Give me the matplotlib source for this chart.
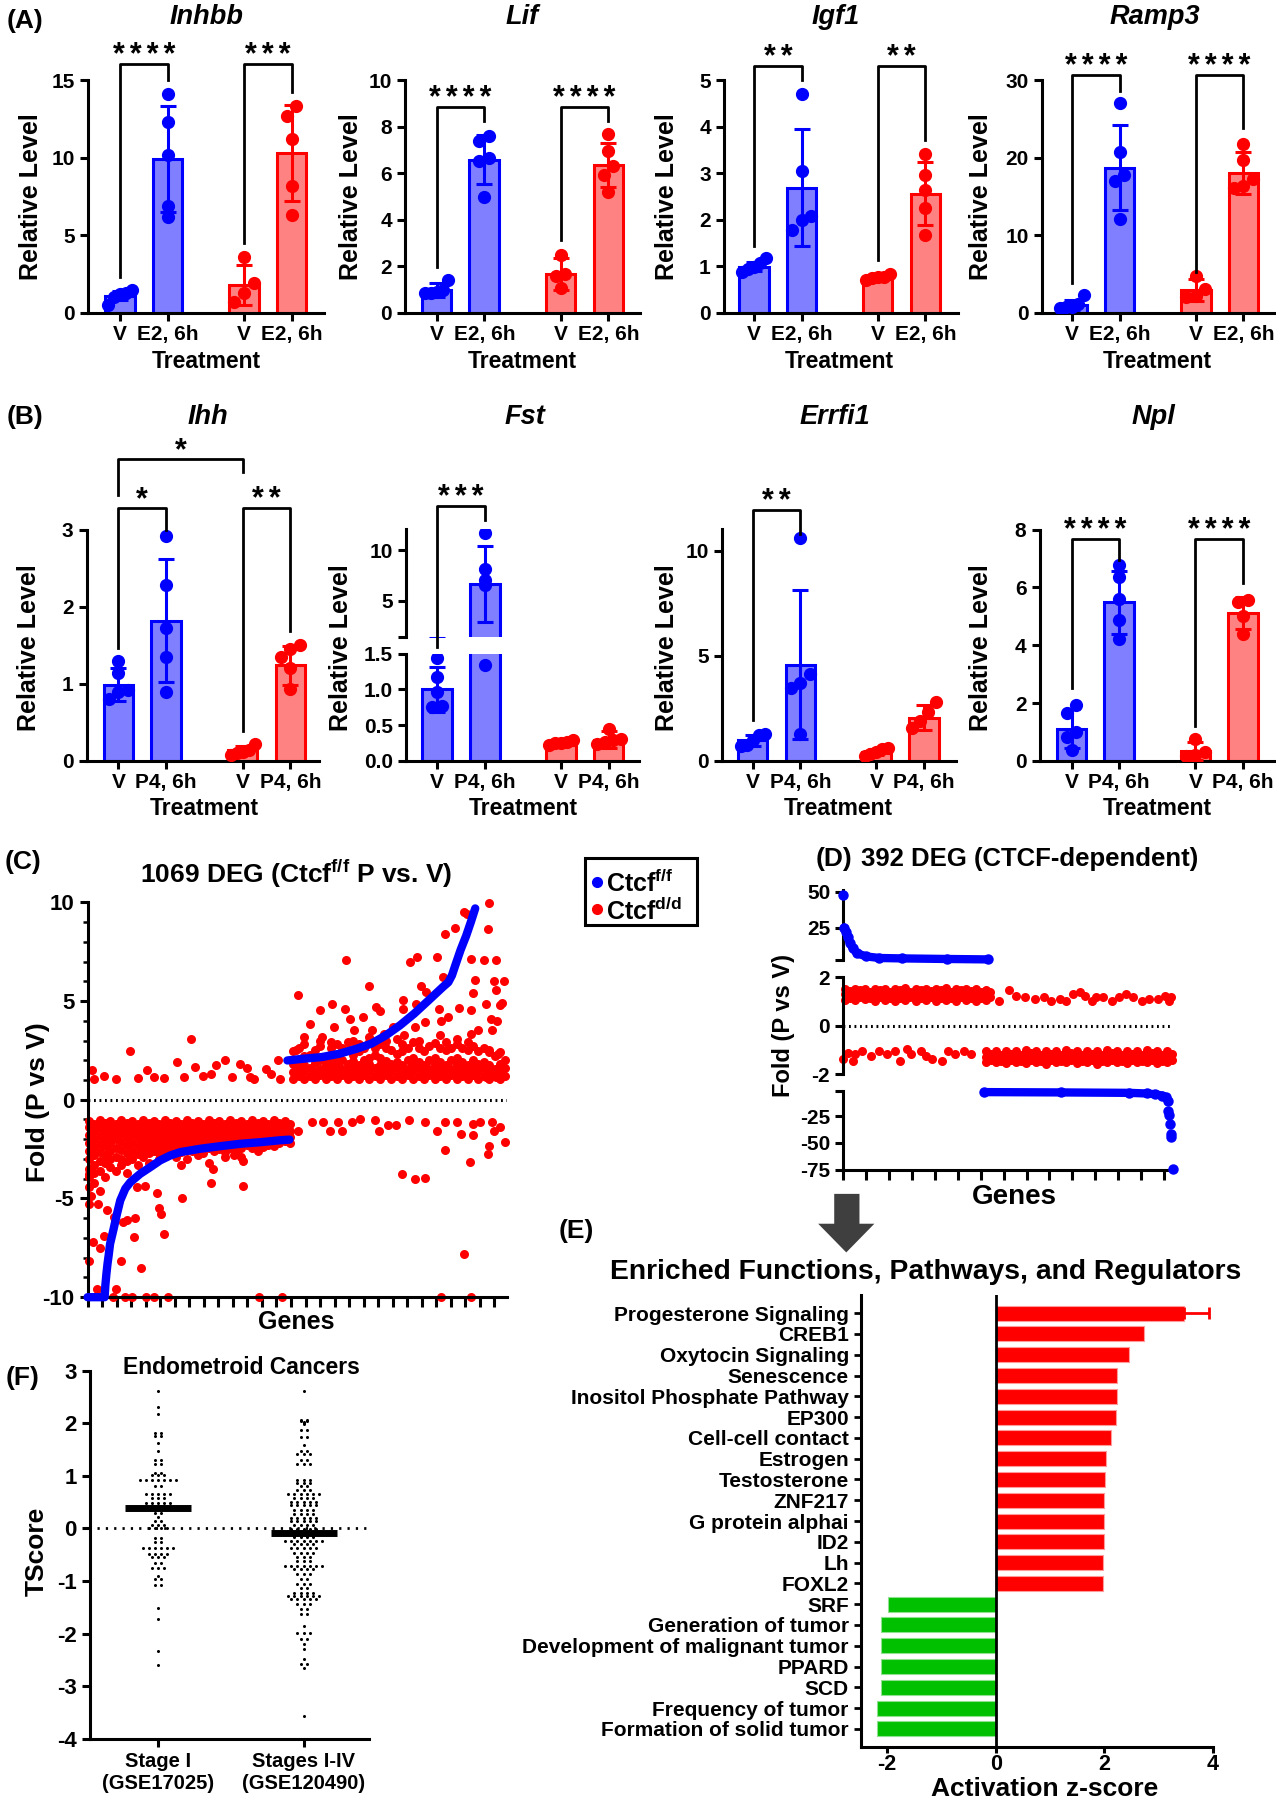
import numpy as np
import matplotlib
matplotlib.use("Agg")
import matplotlib.pyplot as plt
from matplotlib.patches import Polygon, Rectangle

plt.rcParams['font.family'] = ['Liberation Sans', 'DejaVu Sans']
plt.rcParams['font.weight'] = 'bold'
plt.rcParams['axes.labelweight'] = 'bold'
plt.rcParams['axes.unicode_minus'] = False
plt.rcParams['mathtext.fontset'] = 'custom'
plt.rcParams['mathtext.rm'] = 'Liberation Sans:bold'
plt.rcParams['mathtext.default'] = 'rm'
NARROW = ['Liberation Sans Narrow', 'Liberation Sans', 'DejaVu Sans']

W, H = 1112.0, 1568.0  # layout grid in reference pixels

BLUE, RED = '#0000ff', '#ff0000'
BLUE_FILL, RED_FILL = '#7f7fff', '#ff8282'
XPOS = [0, 1, 2.6, 3.6]

# ---------------- (A) E2 response ----------------
inhbb_mean = [1.1, 9.9, 1.8, 10.3]
inhbb_sd = [0.3, 3.4, 1.3, 3.1]
inhbb_pts = [[1.2, 1.5, 0.5, 1.0, 1.3], [14.1, 12.3, 10.2, 6.9, 6.2],
             [3.6, 1.9, 1.3, 0.7], [13.3, 12.7, 11.2, 8.2, 6.3]]
inhbb_sig = [(0, 1, 16.0, 2.3, 15.0, 4), (2.6, 3.6, 16.0, 4.5, 14.2, 3)]

lif_mean = [0.98, 6.58, 1.67, 6.36]
lif_sd = [0.28, 1.05, 0.67, 0.95]
lif_pts = [[1.4, 1.0, 0.85, 0.85, 0.9], [7.6, 7.4, 6.65, 6.5, 4.97],
           [2.5, 1.65, 1.6, 1.05], [7.66, 6.97, 6.3, 5.93, 5.17]]
lif_sig = [(0, 1, 8.85, 1.98, 8.23, 4), (2.6, 3.6, 8.85, 3.13, 8.23, 4)]

igf1_mean = [0.99, 2.69, 0.77, 2.56]
igf1_sd = [0.1, 1.25, 0.05, 0.68]
igf1_pts = [[1.17, 1.06, 0.95, 0.88, 0.99], [4.71, 3.05, 2.08, 1.99, 1.78],
            [0.84, 0.78, 0.74, 0.7, 0.76], [3.41, 2.96, 2.64, 2.26, 1.67]]
igf1_sig = [(0, 1, 5.31, 1.44, 5.0, 2), (2.6, 3.6, 5.31, 1.13, 3.71, 2)]

ramp3_mean = [1.0, 18.7, 2.9, 18.0]
ramp3_sd = [0.7, 5.5, 1.4, 2.7]
ramp3_pts = [[2.3, 1.2, 0.8, 0.6, 0.7], [27.0, 20.7, 17.8, 17.0, 12.1],
             [4.7, 3.1, 2.2, 2.0], [21.7, 19.7, 17.2, 16.4, 16.1]]
ramp3_sig = [(0, 1, 30.6, 3.9, 28.6, 4), (2.6, 3.6, 30.6, 5.2, 23.8, 4)]

# ---------------- (B) P4 response ----------------
ihh_mean = [0.99, 1.82, 0.14, 1.24]
ihh_sd = [0.21, 0.8, 0.05, 0.25]
ihh_pts = [[1.3, 1.14, 0.92, 0.9, 0.8], [2.91, 2.28, 1.72, 1.35, 0.9],
           [0.22, 0.14, 0.12, 0.1, 0.08], [1.5, 1.45, 1.35, 1.2, 0.93]]
ihh_sig = [(0, 1, 3.28, 1.47, 3.0, 1), (2.6, 3.6, 3.28, 0.39, 1.69, 2),
           (0, 2.6, 3.91, 3.45, 3.74, 1)]

fst_mean = [1.0, 6.7, 0.26, 0.3]
fst_sd = [0.31, 3.75, 0.03, 0.12]
fst_pts = [[1.44, 1.18, 0.96, 0.77, 0.76], [11.7, 8.1, 7.1, 6.6, 1.34],
           [0.3, 0.27, 0.25, 0.25, 0.22], [0.45, 0.31, 0.29, 0.27, 0.24]]
fst_sig = [(0, 1, 14.4, 0.46, 13.0, 3)]

errfi1_mean = [0.98, 4.58, 0.43, 2.06]
errfi1_sd = [0.25, 3.55, 0.15, 0.6]
errfi1_pts = [[1.3, 1.22, 1.0, 0.75, 0.7], [10.6, 4.12, 3.72, 3.47, 1.3],
              [0.63, 0.55, 0.45, 0.35, 0.24], [2.8, 2.35, 1.9, 1.55]]
errfi1_sig = [(0, 1, 11.96, 1.93, 10.78, 2)]

npl_mean = [1.12, 5.48, 0.35, 5.12]
npl_sd = [0.68, 1.1, 0.3, 0.55]
npl_pts = [[1.95, 1.66, 1.0, 0.83, 0.37], [6.77, 6.36, 5.61, 4.86, 4.23],
           [0.77, 0.3, 0.22, 0.16], [5.55, 5.5, 5.0, 4.4]]
npl_sig = [(0, 1, 7.68, 2.52, 6.94, 4), (2.6, 3.6, 7.68, 1.2, 6.16, 4)]

# ---------------- (C) 1069 DEG ----------------
c_blue_neg_x = [0, 47, 49, 52, 55, 58, 62, 71, 81, 90, 104, 118, 145, 173, 200, 228, 256,
                311, 366, 421, 476, 531, 556]
c_blue_neg_y = [-10, -10, -9.4, -8.8, -8.3, -7.9, -7.3, -6.6, -5.78, -5.1, -4.5, -4.17,
                -3.75, -3.41, -3.07, -2.82, -2.65, -2.48, -2.35, -2.23, -2.15, -2.05, -2.02]
c_blue_pos_x = [550, 595, 644, 693, 742, 781, 821, 860, 899, 939, 978, 993, 1003, 1013,
                1027, 1042, 1055, 1067]
c_blue_pos_y = [1.99, 2.08, 2.16, 2.33, 2.59, 2.84, 3.26, 3.77, 4.36, 5.04, 5.71, 5.95, 6.3,
                6.85, 7.6, 8.3, 9.0, 9.69]

c_red_x = [5, 10, 5, 30, 15, 34, 5, 25, 44, 54, 74, 98, 108, 131, 128, 93, 147, 79, 69, 103,
           123, 162, 182, 221, 472, 536, 973, 1055, 192, 197, 202, 210, 260, 136, 157, 341,
           428, 258, 344, 428, 403,
           13, 17, 44, 79, 116, 138, 164, 182, 211, 246, 265, 285, 295, 317, 339, 354, 378,
           398, 420, 438, 447, 459, 492, 506, 524, 531,
           580, 619, 649, 668, 688, 701, 727, 750, 792, 801, 826, 850, 865, 885, 900, 929,
           929, 963, 983, 983, 1017, 1027, 1037, 1052, 1062, 1062, 1081, 1101, 1106, 1113,
           1120, 1135, 1150,
           580, 612, 639, 672, 711, 708, 721, 757, 774, 794, 804, 868, 868, 888, 907, 917,
           932, 963, 978, 983, 1012, 1037, 1056, 1062, 1066, 1055, 1101, 1106, 1091, 1125,
           1120, 1096, 1111, 1124, 1134, 1145, 1140, 1126, 1076, 1113, 1056, 1022, 973, 968,
           992, 929, 905, 900, 870, 841, 816, 782, 732, 678, 644, 595, 575, 1106, 1130, 1140,
           1125, 1096, 1045]
c_red_y = [-3.75, -4.9, -5.3, -5.3, -7.2, -7.5, -8.15, -9.6, -6.9, -5.6, -5.95, -6.2, -6.1,
           -6.0, -6.97, -8.15, -8.5, -9.6, -10, -10, -10, -10, -10, -10, -10, -10, -10, -10,
           -4.7, -5.5, -5.8, -6.8, -5.0, -4.4, -4.35, -4.2, -4.35, -3.3, -3.5, -3.1, -2.8,
           1.52, 1.07, 1.18, 1.07, 2.47, 1.1, 1.52, 1.15, 1.1, 1.91, 1.15, 3.09, 1.66, 1.18,
           1.32, 1.74, 2.03, 1.15, 1.83, 1.62, 1.15, 1.07, 1.57, 1.32, 2.03, 1.07,
           -1.56, -1.13, -1.13, -1.56, -1.13, -1.56, -1.13, -0.96, -1.05, -1.56, -1.3, -1.3,
           -3.75, -1.05, -4.0, -3.96, -1.13, -1.56, -2.57, -1.13, -1.13, -1.72, -7.81, -3.16,
           -1.81, -1.22, -1.13, -2.74, -2.32, -1.13, -1.56, -1.39, -2.15,
           5.3, 3.85, 4.53, 4.84, 7.07, 4.6, 4.1, 4.19, 5.77, 4.7, 4.5, 5.04, 4.6, 6.98, 7.24,
           5.77, 5.46, 7.24, 6.22, 8.39, 8.71, 9.49, 7.15, 5.41, 6.05, 4.53, 8.64, 9.94, 7.07,
           7.07, 6.0, 4.84, 4.1, 5.58, 4.78, 6.0, 4.9, 4.0, 3.55, 3.52, 3.35, 4.67, 4.0, 4.6,
           4.19, 3.94, 4.87, 3.69, 3.26, 3.69, 3.35, 3.52, 3.52, 3.69, 3.18, 3.18, 2.5, 2.5,
           2.33, 1.66, 1.15, 1.15, 9.4]

c_red_neg_band = [
    (3, [-1.1, -1.4, -1.8, -2.2, -2.6, -3.0, -3.5, -3.9, -4.4]),
    (18, [-1.25, -1.6, -2.0, -2.4, -2.8, -3.3, -3.7, -4.2]),
    (33, [-1.05, -1.45, -1.85, -2.25, -2.65, -3.1, -3.6, -4.6]),
    (48, [-1.2, -1.55, -1.95, -2.35, -2.8, -3.2, -3.9]),
    (63, [-1.1, -1.45, -1.8, -2.2, -2.6, -3.0, -3.4]),
    (78, [-1.25, -1.6, -2.0, -2.45, -2.9, -3.6]),
    (93, [-1.05, -1.4, -1.75, -2.15, -2.55, -3.0, -3.3]),
    (108, [-1.2, -1.55, -1.9, -2.3, -2.7, -3.1, -3.7]),
    (123, [-1.1, -1.45, -1.8, -2.2, -2.6, -3.0]),
    (138, [-1.25, -1.6, -1.95, -2.35, -2.75, -3.3]),
    (153, [-1.05, -1.4, -1.75, -2.1, -2.5, -2.9]),
    (168, [-1.2, -1.55, -1.9, -2.3, -2.7, -3.2]),
    (183, [-1.1, -1.45, -1.8, -2.2, -2.6]),
    (198, [-1.25, -1.6, -1.95, -2.3, -2.7, -3.0]),
    (213, [-1.05, -1.4, -1.75, -2.1, -2.5, -2.85]),
    (228, [-1.2, -1.55, -1.9, -2.25, -2.6]),
    (243, [-1.1, -1.45, -1.8, -2.15, -2.5, -2.9]),
    (258, [-1.25, -1.6, -1.95, -2.3, -2.65]),
    (273, [-1.05, -1.4, -1.75, -2.1, -2.45, -3.0]),
    (288, [-1.2, -1.55, -1.9, -2.25, -2.6]),
    (303, [-1.1, -1.45, -1.8, -2.15, -2.5, -2.8]),
    (318, [-1.25, -1.6, -1.95, -2.3, -2.7]),
    (333, [-1.05, -1.4, -1.75, -2.1, -2.45, -3.2]),
    (348, [-1.2, -1.55, -1.9, -2.25, -2.6]),
    (363, [-1.1, -1.45, -1.8, -2.15, -2.5]),
    (378, [-1.25, -1.6, -1.95, -2.3, -2.65, -2.9]),
    (393, [-1.05, -1.4, -1.75, -2.1, -2.45]),
    (408, [-1.2, -1.55, -1.9, -2.25, -2.6]),
    (423, [-1.1, -1.45, -1.8, -2.15, -2.45, -2.9]),
    (438, [-1.25, -1.6, -1.95, -2.3]),
    (453, [-1.05, -1.4, -1.75, -2.1, -2.45]),
    (468, [-1.2, -1.55, -1.9, -2.25, -2.6]),
    (483, [-1.1, -1.45, -1.8, -2.15, -2.4]),
    (498, [-1.25, -1.6, -1.95, -2.3]),
    (513, [-1.05, -1.4, -1.75, -2.1, -2.35]),
    (528, [-1.2, -1.55, -1.9, -2.2]),
    (543, [-1.1, -1.45, -1.8, -2.1]),
    (556, [-1.25, -1.6, -1.9, -2.2]),
]
c_red_pos_band = [
    (566, [1.05, 1.4, 1.8, 2.45]), (581, [1.2, 1.55, 1.95, 2.6]),
    (596, [1.05, 1.45, 1.75, 2.2, 2.8]), (611, [1.2, 1.6, 2.25]),
    (626, [1.05, 1.4, 1.85, 2.5]), (641, [1.25, 1.55, 2.0, 2.7, 3.0]),
    (656, [1.05, 1.45, 1.75, 2.1]), (671, [1.2, 1.6, 1.95, 2.6, 2.9]),
    (686, [1.05, 1.4, 1.75, 2.15, 2.8]), (701, [1.25, 1.55, 2.0, 2.6]),
    (716, [1.05, 1.45, 1.8, 2.5, 2.9]), (731, [1.2, 1.6, 1.95, 2.25, 3.0]),
    (746, [1.05, 1.4, 1.75, 2.45, 2.8]), (761, [1.25, 1.55, 2.0, 2.6]),
    (776, [1.05, 1.45, 1.8, 2.1, 2.9, 3.2]), (791, [1.2, 1.6, 2.25, 2.6]),
    (806, [1.05, 1.4, 1.75, 2.1, 2.8]), (821, [1.25, 1.55, 1.95, 2.6, 2.95]),
    (836, [1.05, 1.45, 1.8, 2.5]), (851, [1.2, 1.6, 1.9, 2.3, 3.1]),
    (866, [1.05, 1.4, 1.75, 2.45, 2.8]), (881, [1.25, 1.55, 2.0, 2.6]),
    (896, [1.05, 1.45, 1.8, 2.1, 2.9]), (911, [1.2, 1.6, 1.9, 2.6, 3.0]),
    (926, [1.05, 1.4, 1.75, 2.45]), (941, [1.25, 1.55, 2.0, 2.7]),
    (956, [1.05, 1.45, 1.8, 2.1, 2.85]), (971, [1.2, 1.6, 1.9, 2.6, 3.3]),
    (986, [1.05, 1.4, 1.75, 2.5, 2.9]), (1001, [1.25, 1.55, 2.0, 2.6]),
    (1016, [1.05, 1.45, 1.8, 2.1, 2.8, 3.1]), (1031, [1.2, 1.6, 1.9, 2.6]),
    (1046, [1.05, 1.4, 1.75, 2.5, 2.9]), (1061, [1.25, 1.55, 2.0, 2.7]),
    (1076, [1.05, 1.45, 1.8, 2.45]), (1091, [1.2, 1.6, 1.9, 2.6]),
    (1106, [1.05, 1.4, 1.75, 2.4]), (1121, [1.25, 1.55, 2.2]),
    (1136, [1.05, 1.45, 1.8, 2.4]), (1148, [1.2, 1.6, 2.0]),
]

# ---------------- (D) 392 DEG ----------------
d_blue_up_x = [1, 3, 5, 8, 11, 16, 27, 43, 70, 124, 173]
d_blue_up_y = [25, 22, 18, 14, 10.5, 7, 4.7, 3.6, 3.3, 2.9, 2.6]
d_blue_up_first = (0, 47.7)
d_blue_dn_x = [168, 260, 341, 362, 372, 380, 385]
d_blue_dn_y = [-2.6, -2.9, -3.3, -3.9, -4.6, -5.8, -7.4]
d_blue_tail_x = [387, 387, 388, 390, 391, 391, 393]
d_blue_tail_y = [-10.5, -19.8, -24.4, -32.1, -41.4, -44.4, -74.7]

d_red_up_band = [
    (2, [1.05, 1.3, 1.5]), (8, [1.15, 1.42]), (14, [1.05, 1.3, 1.5]), (20, [1.18, 1.45]),
    (26, [1.08, 1.32, 1.52]), (32, [1.15, 1.4]), (38, [1.02, 1.28, 1.5]), (44, [1.2, 1.45]),
    (50, [1.05, 1.3, 1.52]), (56, [1.12, 1.4]), (62, [1.0, 1.25, 1.5]), (68, [1.15, 1.45]),
    (74, [1.05, 1.32, 1.55]), (80, [1.18, 1.4]), (86, [1.02, 1.28, 1.5]), (92, [1.12, 1.45]),
    (98, [1.05, 1.3, 1.52]), (104, [1.2, 1.42]), (110, [1.0, 1.28, 1.5]), (116, [1.15, 1.45]),
    (122, [1.05, 1.32, 1.55]), (128, [1.12, 1.4]), (134, [1.02, 1.25, 1.5]),
    (140, [1.18, 1.45]), (146, [1.05, 1.3, 1.5]), (152, [1.12, 1.42]),
    (158, [1.0, 1.28, 1.52]), (164, [1.15, 1.4]), (170, [1.05, 1.3, 1.45]), (175, [1.2, 1.38]),
]
d_red_up_x = [185, 198, 206, 217, 228, 239, 247, 258, 266, 274, 282, 288, 296, 301, 309,
              320, 329, 337, 345, 356, 364, 375, 383, 388, 391]
d_red_up_y = [1.03, 1.45, 1.24, 1.17, 1.1, 1.17, 1.03, 1.1, 1.03, 1.31, 1.38, 1.24, 1.03,
              1.17, 1.17, 1.03, 1.17, 1.31, 1.17, 1.03, 1.1, 1.1, 1.24, 1.03, 1.17]
d_red_dn_x = [0, 5, 11, 14, 22, 33, 43, 52, 62, 68, 76, 81, 92, 98, 106, 117, 125, 133, 144, 152]
d_red_dn_y = [-1.38, -1.1, -1.45, -1.17, -1.03, -1.24, -1.03, -1.17, -1.03, -1.45, -0.97,
              -1.17, -1.03, -1.24, -1.38, -1.45, -1.03, -1.17, -1.03, -1.17]
d_red_dn_band = [
    (170, [-1.05, -1.3, -1.5]), (176, [-1.15, -1.42]), (182, [-1.05, -1.28, -1.5]),
    (188, [-1.18, -1.45]), (194, [-1.02, -1.3, -1.52]), (200, [-1.15, -1.4]),
    (206, [-1.05, -1.32, -1.5]), (212, [-1.2, -1.45]), (218, [-1.0, -1.28, -1.52]),
    (224, [-1.12, -1.4]), (230, [-1.05, -1.3, -1.5]), (236, [-1.18, -1.45]),
    (242, [-1.02, -1.28, -1.55]), (248, [-1.15, -1.42]), (254, [-1.05, -1.3, -1.5]),
    (260, [-1.2, -1.45]), (266, [-1.0, -1.25, -1.5]), (272, [-1.12, -1.4]),
    (278, [-1.05, -1.32, -1.52]), (284, [-1.18, -1.45]), (290, [-1.02, -1.28, -1.5]),
    (296, [-1.15, -1.42]), (302, [-1.05, -1.3, -1.55]), (308, [-1.2, -1.45]),
    (314, [-1.0, -1.28, -1.5]), (320, [-1.12, -1.4]), (326, [-1.05, -1.32, -1.5]),
    (332, [-1.18, -1.45]), (338, [-1.02, -1.25, -1.52]), (344, [-1.15, -1.42]),
    (350, [-1.05, -1.3, -1.5]), (356, [-1.2, -1.45]), (362, [-1.0, -1.28, -1.5]),
    (368, [-1.12, -1.4]), (374, [-1.05, -1.32, -1.52]), (380, [-1.18, -1.45]),
    (386, [-1.05, -1.3, -1.5]), (392, [-1.15, -1.4]),
]

# ---------------- (E) IPA ----------------
e_labels = ['Progesterone Signaling', 'CREB1', 'Oxytocin Signaling', 'Senescence',
            'Inositol Phosphate Pathway', 'EP300', 'Cell-cell contact', 'Estrogen',
            'Testosterone', 'ZNF217', 'G protein alphai', 'ID2', 'Lh', 'FOXL2', 'SRF',
            'Generation of tumor', 'Development of malignant tumor', 'PPARD', 'SCD',
            'Frequency of tumor', 'Formation of solid tumor']
e_values = [3.47, 2.73, 2.45, 2.24, 2.24, 2.22, 2.12, 2.04, 2.01, 2.0, 2.0, 2.0, 1.97, 1.97,
            -1.98, -2.11, -2.11, -2.12, -2.12, -2.18, -2.19]
e_err_first = 0.46

# ---------------- (F) TScore ----------------
f_groups = ['Stage I\n(GSE17025)', 'Stages I-IV\n(GSE120490)']
f_stage1 = [2.61, 2.31, 2.18, 1.82, 1.82, 1.75, 1.75, 1.63, 1.47, 1.31, 1.31, 1.22, 1.22,
            1.06, 1.06, 1.01, 1.01, 1.01, 0.93, 0.93, 0.93, 0.93, 0.93, 0.93, 0.93, 0.80,
            0.80, 0.66, 0.66, 0.66, 0.66, 0.66, 0.58, 0.58, 0.58, 0.49, 0.49, 0.49, 0.49,
            0.49, 0.42, 0.42, 0.30, 0.30, 0.22, 0.14, 0.14, 0.06, 0.06, 0.06, 0.01, 0.01,
            0.01, 0.01, -0.18, -0.18, -0.25, -0.25, -0.38, -0.38, -0.38, -0.38, -0.38, -0.38,
            -0.48, -0.48, -0.48, -0.48, -0.54, -0.54, -0.54, -0.65, -0.65, -0.76, -0.76,
            -0.76, -0.91, -0.97, -0.97, -1.08, -1.08, -1.51, -1.73, -2.33, -2.6]
f_stage_all = [2.61, 2.07, 2.07, 2.05, 2.05, 2.02, 2.0, 1.98, 1.88, 1.88, 1.74, 1.74, 1.58,
               1.47, 1.47, 1.41, 1.41, 1.41, 1.31, 1.31, 1.23, 1.23, 1.23, 0.93, 0.93, 0.93,
               0.87, 0.87, 0.87, 0.80, 0.80, 0.74, 0.74, 0.74, 0.66, 0.66, 0.66, 0.66, 0.66,
               0.66, 0.58, 0.58, 0.58, 0.58, 0.50, 0.50, 0.50, 0.50, 0.50, 0.44, 0.44, 0.44,
               0.44, 0.44, 0.36, 0.36, 0.36, 0.36, 0.27, 0.27, 0.27, 0.27, 0.20, 0.20, 0.20,
               0.20, 0.20, 0.14, 0.14, 0.14, 0.14, 0.14, 0.06, 0.06, 0.06, 0.06, -0.02, -0.02,
               -0.02, -0.02, -0.02, -0.08, -0.08, -0.08, -0.08, -0.16, -0.16, -0.16, -0.16,
               -0.23, -0.23, -0.23, -0.23, -0.23, -0.23, -0.23, -0.30, -0.30, -0.30, -0.30,
               -0.38, -0.38, -0.38, -0.38, -0.38, -0.46, -0.46, -0.46, -0.46, -0.54, -0.54,
               -0.54, -0.62, -0.62, -0.62, -0.72, -0.72, -0.72, -0.72, -0.72, -0.72, -0.72,
               -0.78, -0.78, -0.78, -0.78, -0.87, -0.87, -0.87, -0.97, -0.97, -1.05, -1.05,
               -1.05, -1.14, -1.14, -1.22, -1.22, -1.22, -1.22, -1.29, -1.29, -1.29, -1.29,
               -1.29, -1.29, -1.35, -1.35, -1.35, -1.35, -1.35, -1.44, -1.44, -1.44, -1.54,
               -1.54, -1.63, -1.63, -1.86, -1.98, -1.98, -1.98, -2.11, -2.11, -2.2, -2.3,
               -2.49, -2.58, -2.58, -2.65, -3.57]
f_means = [0.38, -0.08]


fig = plt.figure(figsize=(12.76, 18.0), dpi=100)
ov = fig.add_axes([0, 0, 1, 1])
ov.set_xlim(0, W)
ov.set_ylim(H, 0)
ov.axis('off')


def box(l, t, r, b):
    return fig.add_axes([l / W, 1 - b / H, (r - l) / W, (b - t) / H])


def ftext(x, y, s, **kw):
    kw.setdefault('ha', 'center')
    kw.setdefault('va', 'center')
    fig.text(x / W, 1 - y / H, s, **kw)


def style(ax, lw=2.2, size=15):
    for s in ['top', 'right']:
        ax.spines[s].set_visible(False)
    for s in ['left', 'bottom']:
        ax.spines[s].set_linewidth(lw)
    ax.tick_params(width=lw, length=6, labelsize=size, direction='out')
    ax.patch.set_alpha(0)


def spread(vals, tol):
    vals = np.asarray(vals, float)
    offs = np.zeros(len(vals))
    groups = []
    for i in np.argsort(vals):
        if groups and vals[i] - vals[groups[-1][-1]] < tol:
            groups[-1].append(i)
        else:
            groups.append([i])
    for g in groups:
        n = len(g)
        step = min(0.2, 0.5 / max(n - 1, 1))
        for k, i in enumerate(g):
            offs[i] = (k - (n - 1) / 2) * step
    return offs


def draw_bars(ax, mean, sd, pts, tol, keep=None):
    for i, x in enumerate(XPOS):
        ec, fc = (BLUE, BLUE_FILL) if i < 2 else (RED, RED_FILL)
        ax.bar(x, mean[i], 0.62, color=fc, edgecolor=ec, linewidth=2.2, zorder=2)
        p = np.asarray(pts[i], float)
        xs = x + spread(p, tol)
        m = np.ones(len(p), bool) if keep is None else keep(p)
        ax.plot(xs[m], p[m], 'o', color=ec, ms=8.5, zorder=3)
        ax.errorbar(x, mean[i], yerr=sd[i], fmt='none', ecolor=ec, elinewidth=2.2,
                    capsize=6, capthick=2.2, zorder=4)


def bracket(ax, x1, x2, top, b1, b2, n):
    ax.plot([x1, x1, x2, x2], [b1, top, top, b2], color='k', lw=2, clip_on=False, zorder=5)
    ax.annotate('\u2006'.join('*' * n), xy=((x1 + x2) / 2, top), xytext=(0, 0),
                textcoords='offset points', ha='center', va='baseline', fontsize=22,
                fontweight='bold', annotation_clip=False)


def bar_axes(ax, xl, xlabels):
    ax.set_xlim(*xl)
    ax.set_xticks(XPOS)
    ax.set_xticklabels(xlabels, fontsize=15)
    ax.tick_params(axis='x', pad=3)


def xcenter(l, r, xl):
    return l + (r - l) * (1.8 - xl[0]) / (xl[1] - xl[0])


# ---- panel A ----
lab_e2 = ['V', 'E2, 6h', 'V', 'E2, 6h']
panels_a = [
    ('Inhbb', 77, 282, (-0.665, 4.27), (0, 15), [0, 5, 10, 15], inhbb_mean, inhbb_sd, inhbb_pts, inhbb_sig, 180, 27),
    ('Lif', 353, 558, (-0.66, 4.27), (0, 10), [0, 2, 4, 6, 8, 10], lif_mean, lif_sd, lif_pts, lif_sig, 455, 306),
    ('Igf1', 631, 835, (-0.63, 4.29), (0, 5), [0, 1, 2, 3, 4, 5], igf1_mean, igf1_sd, igf1_pts, igf1_sig, 728, 581),
    ('Ramp3', 908, 1111, (-0.63, 4.26), (0, 30), [0, 10, 20, 30], ramp3_mean, ramp3_sd, ramp3_pts, ramp3_sig, 1006, 855),
]
for name, l, r, xl, yl, yt, mean, sd, pts, sig, tx, lx in panels_a:
    ax = box(l, 69.7, r, 272.5)
    draw_bars(ax, mean, sd, pts, 0.045 * (yl[1] - yl[0]))
    for b in sig:
        bracket(ax, *b)
    style(ax)
    bar_axes(ax, xl, lab_e2)
    ax.set_ylim(*yl)
    ax.set_yticks(yt)
    ftext(tx, 15, name, fontsize=19.5, style='italic')
    ftext(lx, 171, 'Relative Level', fontsize=18, rotation=90)
    ftext(xcenter(l, r, xl), 315, 'Treatment', fontsize=16.5)

# ---- panel B ----
lab_p4 = ['V', 'P4, 6h', 'V', 'P4, 6h']
panels_b = [
    ('Ihh', 75.5, 278, (-0.665, 4.2), 461.3, (0, 3), [0, 1, 2, 3], ihh_mean, ihh_sd, ihh_pts, ihh_sig, 181, 25),
    ('Errfi1', 629, 833, (-0.65, 4.27), 460.4, (0, 11.06), [0, 5, 10], errfi1_mean, errfi1_sd, errfi1_pts, errfi1_sig, 728, 581),
    ('Npl', 906, 1111, (-0.67, 4.27), 461.3, (0, 8), [0, 2, 4, 6, 8], npl_mean, npl_sd, npl_pts, npl_sig, 1005, 855),
]
for name, l, r, xl, top, yl, yt, mean, sd, pts, sig, tx, lx in panels_b:
    ax = box(l, top, r, 662.9)
    draw_bars(ax, mean, sd, pts, 0.045 * (yl[1] - yl[0]))
    for b in sig:
        bracket(ax, *b)
    style(ax)
    bar_axes(ax, xl, lab_p4)
    ax.set_ylim(*yl)
    ax.set_yticks(yt)
    ftext(tx, 363, name, fontsize=19.5, style='italic')
    ftext(lx, 564, 'Relative Level', fontsize=18, rotation=90)
    ftext(xcenter(l, r, xl), 704, 'Treatment', fontsize=16.5)

# Fst with broken axis
fl, fr, fxl = 354, 557, (-0.65, 4.24)
lo = box(fl, 569.4, fr, 662.9)
hi = box(fl, 460.4, fr, 554.8)
draw_bars(lo, fst_mean, fst_sd, fst_pts, 0.06, keep=lambda p: p < 1.5)
draw_bars(hi, fst_mean, fst_sd, fst_pts, 0.06, keep=lambda p: p > 1.5)
for a in (lo, hi):
    style(a)
    bar_axes(a, fxl, lab_p4)
lo.set_ylim(0, 1.5)
lo.set_yticks([0, 0.5, 1.0, 1.5])
lo.set_yticklabels(['0.0', '0.5', '1.0', '1.5'])
hi.set_ylim(1.44, 12.14)
hi.set_yticks([1.44, 5, 10])
hi.set_yticklabels(['', '5', '10'])
hi.spines['bottom'].set_visible(False)
hi.tick_params(axis='x', length=0, labelbottom=False)
for b in fst_sig:
    bracket(hi, *b)
ftext(457, 363, 'Fst', fontsize=19.5, style='italic')
ftext(297, 564, 'Relative Level', fontsize=18, rotation=90)
ftext(xcenter(fl, fr, fxl), 704, 'Treatment', fontsize=16.5)

# ---- panel C ----
axc = box(76.3, 786, 442, 1130)
for x0, ys in c_red_neg_band + c_red_pos_band:
    axc.plot([x0] * len(ys), ys, 'o', color=RED, ms=6.5, mew=0, zorder=2, clip_on=False)
axc.plot(c_red_x, c_red_y, 'o', color=RED, ms=6.5, mew=0, zorder=2, clip_on=False)
axc.plot(c_blue_neg_x, c_blue_neg_y, '-', color=BLUE, lw=6, solid_capstyle='round',
         solid_joinstyle='round', zorder=3, clip_on=False)
axc.plot(c_blue_pos_x, c_blue_pos_y, '-', color=BLUE, lw=6, solid_capstyle='round',
         solid_joinstyle='round', zorder=3, clip_on=False)
axc.axhline(0, color='k', lw=2.2, ls=(0, (0.6, 1.2)), zorder=1)
style(axc, size=16)
axc.set_xlim(0, 1155)
axc.set_ylim(-10, 10)
axc.set_yticks([-10, -5, 0, 5, 10])
axc.set_yticks(np.arange(-10, 11, 1), minor=True)
axc.tick_params(axis='y', which='minor', length=3.5, width=1.8)
axc.set_xticks(np.arange(0, 1121, 40))
axc.set_xticklabels([])
axc.tick_params(axis='x', length=7)
ftext(20, 751, '(C)', fontsize=19)
ftext(258, 761, r'1069 DEG (Ctcf$^{f/f}$ P vs. V)', fontsize=19)
ftext(33, 960, 'Fold (P vs V)', fontsize=19, rotation=90)
ftext(258, 1152, 'Genes', fontsize=18)

# ---- legend ----
ov.add_patch(Rectangle((510, 747), 97, 59, fill=False, lw=2.2, edgecolor='k'))
ov.plot([520], [768], 'o', color=BLUE, ms=7)
ov.plot([520], [792], 'o', color=RED, ms=7)
ov.text(528, 770, r'Ctcf$^{f/f}$', fontsize=18, va='center', ha='left', family=NARROW)
ov.text(528, 794, r'Ctcf$^{d/d}$', fontsize=18, va='center', ha='left', family=NARROW)

# ---- panel D ----
dl, dr = 735, 1020
dtop = box(dl, 775.6, dr, 836)
dmid = box(dl, 851.1, dr, 936)
dbot = box(dl, 950.5, dr, 1019)
for a in (dtop, dmid, dbot):
    style(a, size=15)
    a.set_xlim(0, 390)
    a.tick_params(labelfontfamily=NARROW)
for a in (dtop, dmid):
    a.spines['bottom'].set_visible(False)
    a.tick_params(axis='x', length=0, labelbottom=False)
dtop.plot(*d_blue_up_first, 'o', color=BLUE, ms=6.5, clip_on=False, zorder=3)
dtop.plot(d_blue_up_x, d_blue_up_y, '-o', color=BLUE, lw=6, ms=6.5, solid_capstyle='round',
          clip_on=False, zorder=3)
dtop.set_ylim(2.4, 51.1)
dtop.set_yticks([2.4, 25, 50])
dtop.set_yticklabels(['', '25', '50'])
for x0, ys in d_red_up_band + d_red_dn_band:
    dmid.plot([x0] * len(ys), ys, 'o', color=RED, ms=6.5, mew=0, clip_on=False, zorder=2)
dmid.plot(d_red_up_x, d_red_up_y, 'o', color=RED, ms=6.5, mew=0, clip_on=False, zorder=2)
dmid.plot(d_red_dn_x, d_red_dn_y, 'o', color=RED, ms=6.5, mew=0, clip_on=False, zorder=2)
dmid.axhline(0, color='k', lw=2.2, ls=(0, (0.6, 1.2)), zorder=1)
dmid.set_ylim(-2, 2)
dmid.set_yticks([-2, 0, 2])
dbot.plot(d_blue_dn_x, d_blue_dn_y, '-o', color=BLUE, lw=6, ms=6.5, solid_capstyle='round',
          clip_on=False, zorder=3)
dbot.plot(d_blue_tail_x, d_blue_tail_y, 'o', color=BLUE, ms=6.5, clip_on=False, zorder=3)
dbot.set_ylim(-75, -1.7)
dbot.set_yticks([-75, -50, -25, -1.7])
dbot.set_yticklabels(['-75', '-50', '-25', ''])
dbot.set_xticks(np.arange(15) * 27.3)
dbot.set_xticklabels([])
dbot.tick_params(axis='x', length=7)
ftext(727, 748, '(D)', fontsize=19)
ftext(897, 748, '392 DEG (CTCF-dependent)', fontsize=18.5, family=NARROW)
ftext(683, 893, 'Fold (P vs V)', fontsize=17, rotation=90)
ftext(884, 1043, 'Genes', fontsize=20, family=NARROW)

# arrow D -> E
ov.add_patch(Polygon([(727, 1040), (749, 1040), (749, 1066), (762, 1066), (737.5, 1091),
                      (713, 1066), (727, 1066)], closed=True, color='#3f3f3f', lw=0))

# ---- panel E ----
axe = box(750, 1128, 1057, 1522)
ypos = np.arange(len(e_labels))
cols = [RED if v > 0 else '#00c000' for v in e_values]
edges = ['#ff9a9a' if v > 0 else '#8fe08f' for v in e_values]
axe.barh(ypos, e_values, height=0.72, color=cols, edgecolor=edges, linewidth=0.8, zorder=2)
axe.errorbar(e_values[0], ypos[0], xerr=[[0], [e_err_first]], fmt='none', ecolor=RED,
             elinewidth=2, capsize=4, capthick=2, zorder=3)
axe.axvline(0, color='k', lw=2, zorder=3)
style(axe, size=15.5)
axe.set_xlim(-2.49, 4.0)
axe.set_ylim(len(e_labels) - 0.12, -0.88)
axe.set_xticks([-2, 0, 2, 4])
axe.set_yticks(ypos)
axe.set_yticklabels(e_labels, fontsize=15, family=NARROW)
axe.tick_params(axis='y', length=5, width=2)
axe.tick_params(axis='x', labelfontfamily=NARROW, length=4, pad=1)
ftext(502, 1072, '(E)', fontsize=19)
ftext(807, 1108, 'Enriched Functions, Pathways, and Regulators', fontsize=20.3, family=NARROW)
ftext(910, 1558, 'Activation z-score', fontsize=19, family=NARROW)

# ---- panel F ----
axf = box(78.4, 1194, 322, 1514.7)
for gi, vals in enumerate([f_stage1, f_stage_all]):
    vals = np.asarray(vals)
    xs = np.zeros(len(vals))
    for v in np.unique(vals):
        idx = np.where(vals == v)[0]
        n = len(idx)
        xs[idx] = gi + (np.arange(n) - (n - 1) / 2) * 0.042
    axf.plot(xs, vals, 'o', color='k', ms=2.2, mew=0, zorder=3)
    axf.plot([gi - 0.226, gi + 0.226], [f_means[gi]] * 2, color='k', lw=5, zorder=4,
             solid_capstyle='butt')
axf.plot([-0.42, 1.43], [0, 0], color='k', lw=2, ls=(0, (0.8, 2.2)), zorder=1)
style(axf, size=16)
axf.set_xlim(-0.466, 1.452)
axf.set_ylim(-4, 3)
axf.set_yticks(np.arange(-4, 4))
axf.set_xticks([0, 1])
axf.set_xticklabels(f_groups, fontsize=14.5)
ftext(20, 1200, '(F)', fontsize=19)
ftext(210, 1191, 'Endometroid Cancers', fontsize=16.5)
ftext(32, 1351, 'TScore', fontsize=19, rotation=90)

ftext(22, 18, '(A)', fontsize=19)
ftext(22, 363, '(B)', fontsize=19)

fig.savefig('out.png', dpi=100)
